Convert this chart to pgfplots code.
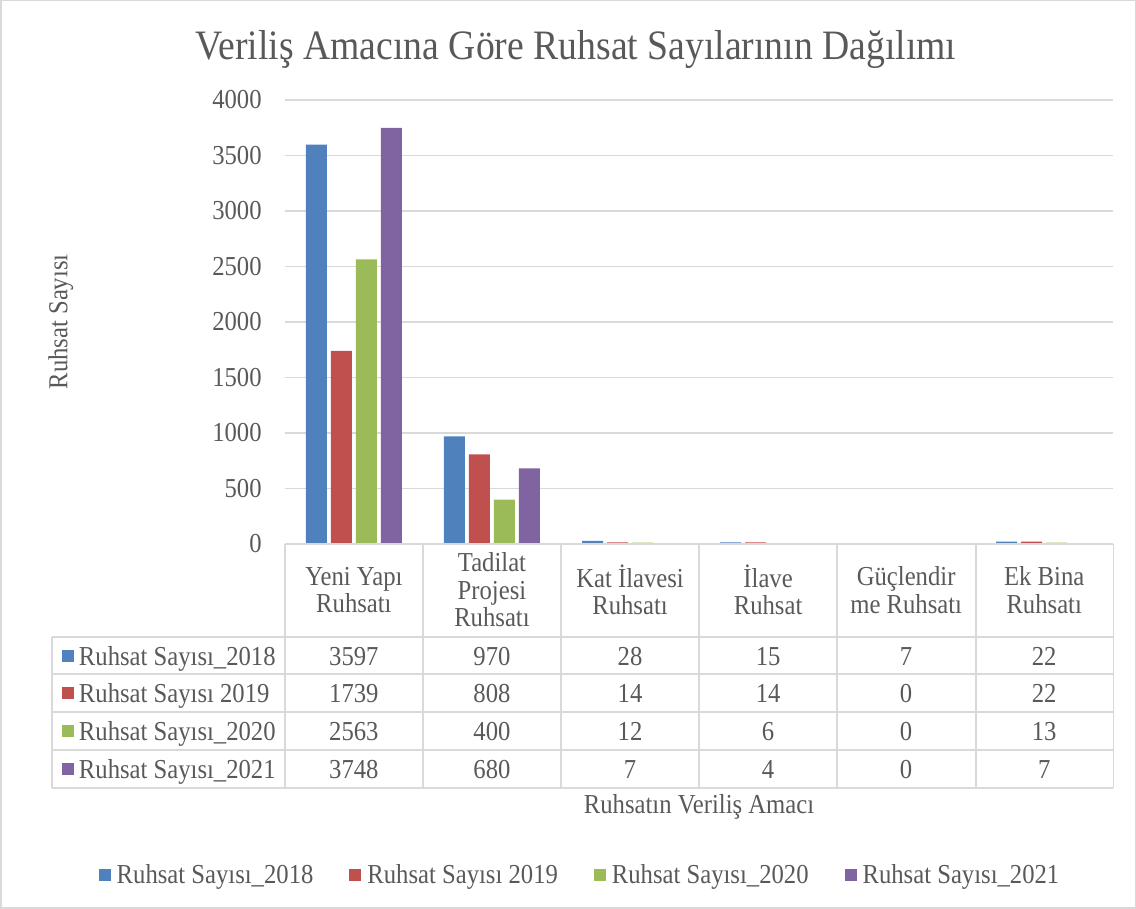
\documentclass[border=0pt]{standalone}
\usepackage{fontspec}
\setmainfont[FakeStretch=0.9]{Liberation Serif}
\usepackage{pgfplots}
\pgfplotsset{compat=1.18}
\usepackage{pgfplotstable}
\definecolor{c18}{HTML}{4F81BD}
\definecolor{c19}{HTML}{C0504D}
\definecolor{c20}{HTML}{9BBB59}
\definecolor{c21}{HTML}{8064A2}
\definecolor{txt}{HTML}{595959}
\definecolor{gridc}{HTML}{D9D9D9}

\pgfplotstableread{
x y18 y19 y20 y21
0 3597 1739 2563 3748
1 970 808 400 680
2 28 14 12 7
3 15 14 6 4
4 7 0 0 0
5 22 22 13 7
}\datatable

\newcommand{\fs}{\fontsize{27.5}{27.5}\selectfont}
\pgfplotsset{sq legend/.style={legend image code/.code={\fill[##1] (0bp,-6bp) rectangle (12bp,6bp);}}}

\begin{document}
\begin{tikzpicture}
\draw[gridc, line width=1.5bp] (1bp,1bp) rectangle (1135bp,908bp);
\begin{axis}[
  at={(285bp,365bp)}, anchor=south west,
  scale only axis, width=828bp, height=444bp,
  xmin=-0.5, xmax=5.5, ymin=0, ymax=4000,
  axis line style={draw=none},
  xtick=\empty,
  ytick={0,500,...,4000},
  ymajorgrids, grid style={gridc, line width=1.5bp},
  major tick length=0pt,
  scaled y ticks=false,
  /pgf/number format/.cd, set thousands separator={}, assume math mode=true, /pgfplots/.cd,
  yticklabel style={font=\fs, text=txt, inner sep=0pt, xshift=-23bp},
  ybar=4bp, bar width=21bp,
  legend columns=4,
  legend style={at={(0.3563,-0.745)}, anchor=center, draw=none, fill=none,
    font=\fs, text=txt,
    /tikz/every odd column/.append style={column sep=4bp},
    /tikz/every even column/.append style={column sep=34bp}},
]
\addplot[fill=c18, draw=none, sq legend] table[x=x,y=y18]{\datatable};
\addlegendentry{Ruhsat Sayısı\_2018}
\addplot[fill=c19, draw=none, sq legend] table[x=x,y=y19]{\datatable};
\addlegendentry{Ruhsat Sayısı 2019}
\addplot[fill=c20, draw=none, sq legend] table[x=x,y=y20]{\datatable};
\addlegendentry{Ruhsat Sayısı\_2020}
\addplot[fill=c21, draw=none, sq legend] table[x=x,y=y21]{\datatable};
\addlegendentry{Ruhsat Sayısı\_2021}
\end{axis}
% title and axis titles
\node[font=\fontsize{42}{42}\selectfont, text=txt] at (576bp,859bp) {Veriliş Amacına Göre Ruhsat Sayılarının Dağılımı};
\node[font=\fs, text=txt, rotate=90] at (61bp,587bp) {Ruhsat Sayısı};
\node[font=\fs, text=txt] at (699bp,102bp) {Ruhsatın Veriliş Amacı};
% data table grid
\begin{scope}[gridc, line width=1.5bp]
\draw (285bp,365bp) -- (1113bp,365bp);
\foreach \yy in {272,235,197,159,121} \draw (52bp,\yy bp) -- (1113bp,\yy bp);
\draw (52bp,272bp) -- (52bp,121bp);
\foreach \xx in {285,423,561,699,837,976,1113} \draw (\xx bp,365bp) -- (\xx bp,121bp);
\end{scope}
% headers
\foreach \lab [count=\i from 0] in {{Yeni Yapı\\Ruhsatı},{Tadilat\\Projesi\\Ruhsatı},{Kat İlavesi\\Ruhsatı},{İlave\\Ruhsat},{Güçlendir\\me Ruhsatı},{Ek Bina\\Ruhsatı}}
  \node[font=\fs, text=txt, align=center] at (354bp+138bp*\i,319bp) {\lab};
% row labels
\foreach \c/\lab/\yc in {c18/{Ruhsat Sayısı\_2018}/253, c19/{Ruhsat Sayısı 2019}/216, c20/{Ruhsat Sayısı\_2020}/178, c21/{Ruhsat Sayısı\_2021}/140} {
  \fill[\c] (62bp,\yc bp-6bp) rectangle (74bp,\yc bp+6bp);
  \node[font=\fs, text=txt, anchor=base west, inner sep=0pt] at (79bp,\yc bp-9bp) {\lab};
}
% values
\foreach \vals/\yc in {{3597,970,28,15,7,22}/253, {1739,808,14,14,0,22}/216, {2563,400,12,6,0,13}/178, {3748,680,7,4,0,7}/140} {
  \foreach \v [count=\i from 0] in \vals
    \node[font=\fs, text=txt, anchor=base, inner sep=0pt] at (354bp+138bp*\i,\yc bp-9bp) {\v};
}
\end{tikzpicture}
\end{document}
